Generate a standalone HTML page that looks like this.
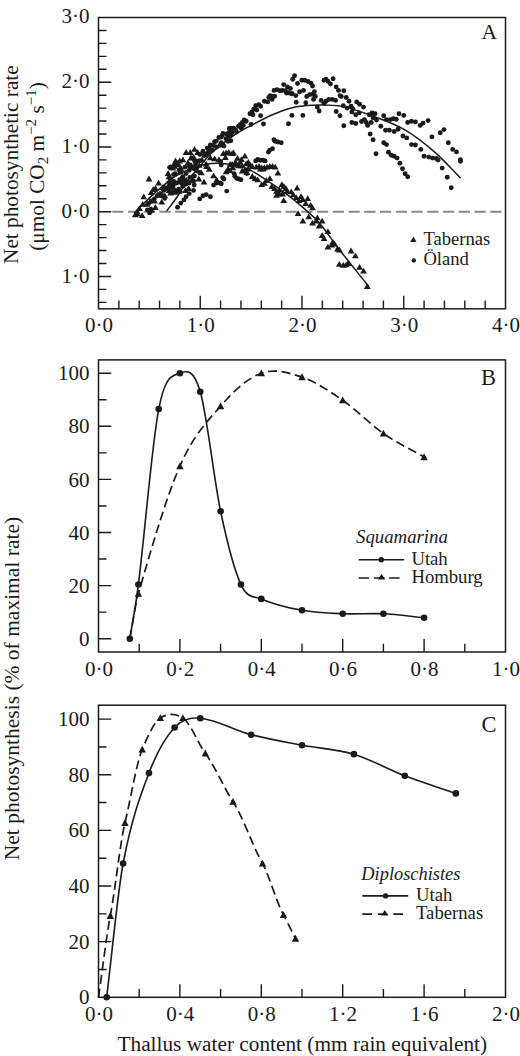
<!DOCTYPE html>
<html><head><meta charset="utf-8"><style>
html,body{margin:0;padding:0;background:#fff;}
svg{display:block;}
text{font-family:"Liberation Serif",serif;fill:#1a1a1a;}
</style></head><body>
<svg width="520" height="1056" viewBox="0 0 520 1056">
<rect width="520" height="1056" fill="#fff"/>
<rect x="98.5" y="17.5" width="407.0" height="291.3" fill="none" stroke="#1a1a1a" stroke-width="1.5"/>
<path d="M98.5,276.43h12.8 M98.5,211.70h12.8 M98.5,146.97h12.8 M98.5,82.23h12.8 M98.5,302.33h8 M98.5,289.38h8 M98.5,263.49h8 M98.5,250.54h8 M98.5,237.59h8 M98.5,224.65h8 M98.5,198.75h8 M98.5,185.81h8 M98.5,172.86h8 M98.5,159.91h8 M98.5,134.02h8 M98.5,121.07h8 M98.5,108.13h8 M98.5,95.18h8 M98.5,69.29h8 M98.5,56.34h8 M98.5,43.39h8 M98.5,30.45h8" stroke="#1a1a1a" stroke-width="1.4" fill="none"/>
<path d="M200.25,308.8v-13 M302.00,308.8v-13 M403.75,308.8v-13 M118.85,308.8v-8.3 M139.20,308.8v-8.3 M159.55,308.8v-8.3 M179.90,308.8v-8.3 M220.60,308.8v-8.3 M240.95,308.8v-8.3 M261.30,308.8v-8.3 M281.65,308.8v-8.3 M322.35,308.8v-8.3 M342.70,308.8v-8.3 M363.05,308.8v-8.3 M383.40,308.8v-8.3 M424.10,308.8v-8.3 M444.45,308.8v-8.3 M464.80,308.8v-8.3 M485.15,308.8v-8.3" stroke="#1a1a1a" stroke-width="1.4" fill="none"/>
<text x="89.6" y="22.90" text-anchor="end" font-size="21">3·0</text>
<text x="89.6" y="88.43" text-anchor="end" font-size="21">2·0</text>
<text x="89.6" y="153.17" text-anchor="end" font-size="21">1·0</text>
<text x="89.6" y="217.90" text-anchor="end" font-size="21">0·0</text>
<text x="89.6" y="282.63" text-anchor="end" font-size="21">1·0</text>
<text x="98.90" y="332.4" text-anchor="middle" font-size="21">0·0</text>
<text x="200.65" y="332.4" text-anchor="middle" font-size="21">1·0</text>
<text x="302.40" y="332.4" text-anchor="middle" font-size="21">2·0</text>
<text x="404.15" y="332.4" text-anchor="middle" font-size="21">3·0</text>
<text x="505.90" y="332.4" text-anchor="middle" font-size="21">4·0</text>
<line x1="112.25" y1="211.70" x2="502.5" y2="211.70" stroke="#8a8a8a" stroke-width="2" stroke-dasharray="11.25 4.5"/>
<text x="497" y="39.4" text-anchor="end" font-size="21.5">A</text>
<rect x="98.5" y="359.9" width="407.0" height="292.1" fill="none" stroke="#1a1a1a" stroke-width="1.5"/>
<path d="M98.5,638.72h12.8 M98.5,585.61h12.8 M98.5,532.50h12.8 M98.5,479.40h12.8 M98.5,426.29h12.8 M98.5,373.18h12.8 M98.5,612.17h8 M98.5,559.06h8 M98.5,505.95h8 M98.5,452.84h8 M98.5,399.73h8" stroke="#1a1a1a" stroke-width="1.4" fill="none"/>
<path d="M179.90,652.0v-13 M261.30,652.0v-13 M342.70,652.0v-13 M424.10,652.0v-13 M139.20,652.0v-8.3 M220.60,652.0v-8.3 M302.00,652.0v-8.3 M383.40,652.0v-8.3 M464.80,652.0v-8.3" stroke="#1a1a1a" stroke-width="1.4" fill="none"/>
<text x="89.6" y="645.82" text-anchor="end" font-size="21">0</text>
<text x="89.6" y="592.71" text-anchor="end" font-size="21">20</text>
<text x="89.6" y="539.60" text-anchor="end" font-size="21">40</text>
<text x="89.6" y="486.50" text-anchor="end" font-size="21">60</text>
<text x="89.6" y="433.39" text-anchor="end" font-size="21">80</text>
<text x="89.6" y="380.28" text-anchor="end" font-size="21">100</text>
<text x="98.90" y="675.9" text-anchor="middle" font-size="21">0·0</text>
<text x="180.30" y="675.9" text-anchor="middle" font-size="21">0·2</text>
<text x="261.70" y="675.9" text-anchor="middle" font-size="21">0·4</text>
<text x="343.10" y="675.9" text-anchor="middle" font-size="21">0·6</text>
<text x="424.50" y="675.9" text-anchor="middle" font-size="21">0·8</text>
<text x="505.90" y="675.9" text-anchor="middle" font-size="21">1·0</text>
<text x="496" y="385" text-anchor="end" font-size="22.5">B</text>
<rect x="98.5" y="705.2" width="407.0" height="292.0999999999999" fill="none" stroke="#1a1a1a" stroke-width="1.5"/>
<path d="M98.5,941.66h12.8 M98.5,886.02h12.8 M98.5,830.39h12.8 M98.5,774.75h12.8 M98.5,719.11h12.8 M98.5,969.48h8 M98.5,913.84h8 M98.5,858.20h8 M98.5,802.57h8 M98.5,746.93h8" stroke="#1a1a1a" stroke-width="1.4" fill="none"/>
<path d="M179.90,997.3v-13 M261.30,997.3v-13 M342.70,997.3v-13 M424.10,997.3v-13 M139.20,997.3v-8.3 M220.60,997.3v-8.3 M302.00,997.3v-8.3 M383.40,997.3v-8.3 M464.80,997.3v-8.3" stroke="#1a1a1a" stroke-width="1.4" fill="none"/>
<text x="89.6" y="1004.40" text-anchor="end" font-size="21">0</text>
<text x="89.6" y="948.76" text-anchor="end" font-size="21">20</text>
<text x="89.6" y="893.12" text-anchor="end" font-size="21">40</text>
<text x="89.6" y="837.49" text-anchor="end" font-size="21">60</text>
<text x="89.6" y="781.85" text-anchor="end" font-size="21">80</text>
<text x="89.6" y="726.21" text-anchor="end" font-size="21">100</text>
<text x="98.90" y="1021" text-anchor="middle" font-size="21">0·0</text>
<text x="180.30" y="1021" text-anchor="middle" font-size="21">0·4</text>
<text x="261.70" y="1021" text-anchor="middle" font-size="21">0·8</text>
<text x="343.10" y="1021" text-anchor="middle" font-size="21">1·2</text>
<text x="424.50" y="1021" text-anchor="middle" font-size="21">1·6</text>
<text x="505.90" y="1021" text-anchor="middle" font-size="21">2·0</text>
<text x="496.5" y="732.3" text-anchor="end" font-size="22.5">C</text>
<text transform="translate(18.3,264) rotate(-90)" font-size="21.3">Net photosynthetic rate</text>
<text transform="translate(43.5,250.8) rotate(-90)" font-size="21.3">(μmol CO<tspan font-size="15" dy="4">2</tspan><tspan dy="-4"> m</tspan><tspan font-size="15" dy="-8">−2</tspan><tspan dy="8"> s</tspan><tspan font-size="15" dy="-8">−1</tspan><tspan dy="8">)</tspan></text>
<text transform="translate(18.5,860.2) rotate(-90)" font-size="21.5">Net photosynthesis (% of maximal rate)</text>
<text x="117.5" y="1051.3" font-size="21.3">Thallus water content (mm rain equivalent)</text>
<path d="M129.84,638.72 C132.69,620.67 135.54,607.20 138.39,584.55 C145.17,530.63 151.95,443.56 158.74,409.03 C165.79,373.11 172.85,376.11 179.90,373.18 C186.68,370.36 193.47,368.75 200.25,391.77 C207.03,414.78 213.82,479.13 220.60,511.26 C227.38,543.39 234.17,569.95 240.95,584.55 C247.73,599.16 254.52,596.03 261.30,598.89 C274.87,604.61 288.43,607.83 302.00,610.31 C315.57,612.79 329.13,613.19 342.70,613.76 C356.27,614.34 369.83,613.10 383.40,613.76 C396.97,614.43 410.53,616.42 424.10,617.74" fill="none" stroke="#1a1a1a" stroke-width="1.6"/>
<path d="M129.84,638.72 C132.69,623.68 135.54,603.40 138.39,593.58 C152.22,545.87 166.06,497.67 179.90,466.12 C193.47,435.18 207.03,421.60 220.60,406.10 C234.17,390.61 247.73,378.00 261.30,373.18 C274.87,368.35 288.43,372.65 302.00,377.16 C315.57,381.67 329.13,390.88 342.70,400.26 C356.27,409.65 369.83,423.98 383.40,433.46 C396.97,442.93 410.53,449.21 424.10,457.09" fill="none" stroke="#1a1a1a" stroke-width="1.7" stroke-dasharray="9 4.6"/>
<path d="M138.39,589.79L142.09,596.69L134.69,596.69Z" fill="#1a1a1a"/>
<path d="M179.90,462.32L183.60,469.22L176.20,469.22Z" fill="#1a1a1a"/>
<path d="M220.60,402.31L224.30,409.21L216.90,409.21Z" fill="#1a1a1a"/>
<path d="M261.30,369.38L265.00,376.28L257.60,376.28Z" fill="#1a1a1a"/>
<path d="M302.00,373.37L305.70,380.27L298.30,380.27Z" fill="#1a1a1a"/>
<path d="M342.70,396.47L346.40,403.37L339.00,403.37Z" fill="#1a1a1a"/>
<path d="M383.40,429.66L387.10,436.56L379.70,436.56Z" fill="#1a1a1a"/>
<path d="M424.10,453.29L427.80,460.19L420.40,460.19Z" fill="#1a1a1a"/>
<circle cx="129.84" cy="638.72" r="3.3" fill="#1a1a1a"/>
<circle cx="138.39" cy="584.55" r="3.3" fill="#1a1a1a"/>
<circle cx="158.74" cy="409.03" r="3.3" fill="#1a1a1a"/>
<circle cx="179.90" cy="373.18" r="3.3" fill="#1a1a1a"/>
<circle cx="200.25" cy="391.77" r="3.3" fill="#1a1a1a"/>
<circle cx="220.60" cy="511.26" r="3.3" fill="#1a1a1a"/>
<circle cx="240.95" cy="584.55" r="3.3" fill="#1a1a1a"/>
<circle cx="261.30" cy="598.89" r="3.3" fill="#1a1a1a"/>
<circle cx="302.00" cy="610.31" r="3.3" fill="#1a1a1a"/>
<circle cx="342.70" cy="613.76" r="3.3" fill="#1a1a1a"/>
<circle cx="383.40" cy="613.76" r="3.3" fill="#1a1a1a"/>
<circle cx="424.10" cy="617.74" r="3.3" fill="#1a1a1a"/>
<text x="356" y="543" font-size="18.8" font-style="italic">Squamarina</text>
<line x1="358.7" y1="559.7" x2="404.2" y2="559.7" stroke="#1a1a1a" stroke-width="1.6"/>
<circle cx="381.30" cy="559.70" r="2.7" fill="#1a1a1a"/>
<text x="411.4" y="564.6" font-size="18.7">Utah</text>
<line x1="358.7" y1="578" x2="399.6" y2="578" stroke="#1a1a1a" stroke-width="1.6" stroke-dasharray="10.6 4.6"/>
<path d="M381.50,573.82L385.00,579.42L378.00,579.42Z" fill="#1a1a1a"/>
<text x="411.4" y="583" font-size="18.7">Homburg</text>
<path d="M106.64,997.30 C112.13,952.70 117.63,892.60 123.12,863.49 C131.74,817.86 140.35,795.84 148.97,773.08 C157.51,750.50 166.06,736.59 174.61,727.46 C183.16,718.32 191.70,717.47 200.25,718.27 C217.21,719.88 234.17,730.19 251.12,734.69 C268.08,739.19 285.04,742.05 302.00,745.26 C319.30,748.54 336.59,749.01 353.89,754.16 C370.85,759.21 387.81,769.34 404.77,775.86 C421.79,782.41 438.82,787.54 455.85,793.39" fill="none" stroke="#1a1a1a" stroke-width="1.6"/>
<path d="M98.50,997.30 C102.43,970.13 106.37,936.54 110.30,915.79 C115.19,890.03 120.07,843.22 124.95,822.87 C130.72,798.86 136.49,763.09 142.25,749.43 C148.29,735.13 154.33,721.73 160.36,718.00 C167.89,713.34 175.42,713.26 182.95,718.00 C190.41,722.69 197.88,743.34 205.34,753.33 C214.56,765.67 223.79,787.51 233.01,801.73 C242.85,816.89 252.69,845.84 262.52,863.49 C269.51,876.03 276.49,902.22 283.48,914.96 C287.48,922.25 291.49,930.72 295.49,938.60" fill="none" stroke="#1a1a1a" stroke-width="1.7" stroke-dasharray="9 4.6"/>
<path d="M110.30,912.00L114.00,918.90L106.60,918.90Z" fill="#1a1a1a"/>
<path d="M124.95,819.08L128.66,825.98L121.25,825.98Z" fill="#1a1a1a"/>
<path d="M142.25,745.64L145.95,752.54L138.55,752.54Z" fill="#1a1a1a"/>
<path d="M160.36,714.20L164.06,721.10L156.66,721.10Z" fill="#1a1a1a"/>
<path d="M182.95,714.20L186.65,721.10L179.25,721.10Z" fill="#1a1a1a"/>
<path d="M205.34,749.53L209.04,756.43L201.64,756.43Z" fill="#1a1a1a"/>
<path d="M233.01,797.94L236.71,804.84L229.31,804.84Z" fill="#1a1a1a"/>
<path d="M262.52,859.70L266.22,866.60L258.82,866.60Z" fill="#1a1a1a"/>
<path d="M283.48,911.16L287.18,918.06L279.78,918.06Z" fill="#1a1a1a"/>
<path d="M295.49,934.81L299.19,941.71L291.79,941.71Z" fill="#1a1a1a"/>
<circle cx="106.64" cy="997.30" r="3.3" fill="#1a1a1a"/>
<circle cx="123.12" cy="863.49" r="3.3" fill="#1a1a1a"/>
<circle cx="148.97" cy="773.08" r="3.3" fill="#1a1a1a"/>
<circle cx="174.61" cy="727.46" r="3.3" fill="#1a1a1a"/>
<circle cx="200.25" cy="718.27" r="3.3" fill="#1a1a1a"/>
<circle cx="251.12" cy="734.69" r="3.3" fill="#1a1a1a"/>
<circle cx="302.00" cy="745.26" r="3.3" fill="#1a1a1a"/>
<circle cx="353.89" cy="754.16" r="3.3" fill="#1a1a1a"/>
<circle cx="404.77" cy="775.86" r="3.3" fill="#1a1a1a"/>
<circle cx="455.85" cy="793.39" r="3.3" fill="#1a1a1a"/>
<text x="361.3" y="880.1" font-size="18.4" font-style="italic">Diploschistes</text>
<line x1="362.3" y1="895.9" x2="408.2" y2="895.9" stroke="#1a1a1a" stroke-width="1.6"/>
<circle cx="385.60" cy="895.90" r="2.7" fill="#1a1a1a"/>
<text x="416" y="900.6" font-size="18.7">Utah</text>
<line x1="362.3" y1="914.1" x2="403.2" y2="914.1" stroke="#1a1a1a" stroke-width="1.6" stroke-dasharray="9.6 5.9"/>
<path d="M384.80,909.92L388.30,915.52L381.30,915.52Z" fill="#1a1a1a"/>
<text x="416" y="918.7" font-size="18.7">Tabernas</text>
<g fill="#1a1a1a"><circle cx="269.8" cy="150.1" r="2.45"/><circle cx="268.5" cy="152.1" r="2.45"/><circle cx="272.5" cy="148.7" r="2.45"/><circle cx="275.2" cy="141.3" r="2.45"/><circle cx="277.9" cy="142.0" r="2.45"/><circle cx="281.2" cy="142.7" r="2.45"/><circle cx="255.7" cy="160.9" r="2.45"/><circle cx="257.7" cy="159.5" r="2.45"/><circle cx="260.4" cy="160.2" r="2.45"/><circle cx="263.1" cy="160.2" r="2.45"/><circle cx="265.1" cy="160.9" r="2.45"/><circle cx="222.7" cy="144.7" r="2.45"/><circle cx="221.3" cy="142.7" r="2.45"/><circle cx="220.0" cy="145.4" r="2.45"/><circle cx="224.0" cy="146.1" r="2.45"/><circle cx="228.1" cy="141.3" r="2.45"/><circle cx="230.8" cy="140.7" r="2.45"/><circle cx="222.7" cy="177.7" r="2.45"/><circle cx="224.0" cy="179.0" r="2.45"/><circle cx="221.3" cy="183.7" r="2.45"/><circle cx="226.7" cy="191.1" r="2.45"/><circle cx="234.8" cy="176.3" r="2.45"/><circle cx="236.8" cy="178.4" r="2.45"/><circle cx="238.8" cy="179.0" r="2.45"/><circle cx="240.9" cy="179.7" r="2.45"/><circle cx="234.1" cy="173.6" r="2.45"/><circle cx="244.9" cy="171.0" r="2.45"/><circle cx="246.9" cy="173.6" r="2.45"/><circle cx="221.3" cy="164.9" r="2.45"/><circle cx="220.7" cy="161.5" r="2.45"/><circle cx="218.9" cy="137.5" r="2.45"/><circle cx="214.6" cy="141.7" r="2.45"/><circle cx="210.4" cy="144.9" r="2.45"/><circle cx="207.2" cy="148.1" r="2.45"/><circle cx="203.0" cy="151.3" r="2.45"/><circle cx="199.8" cy="154.4" r="2.45"/><circle cx="204.0" cy="155.5" r="2.45"/><circle cx="208.3" cy="152.3" r="2.45"/><circle cx="212.5" cy="150.2" r="2.45"/><circle cx="216.7" cy="147.0" r="2.45"/><circle cx="199.8" cy="160.8" r="2.45"/><circle cx="195.6" cy="163.9" r="2.45"/><circle cx="192.4" cy="167.1" r="2.45"/><circle cx="189.2" cy="170.3" r="2.45"/><circle cx="186.1" cy="173.5" r="2.45"/><circle cx="182.9" cy="176.6" r="2.45"/><circle cx="179.7" cy="179.8" r="2.45"/><circle cx="176.5" cy="183.0" r="2.45"/><circle cx="173.4" cy="185.1" r="2.45"/><circle cx="170.2" cy="186.2" r="2.45"/><circle cx="167.0" cy="188.3" r="2.45"/><circle cx="163.8" cy="190.4" r="2.45"/><circle cx="160.7" cy="193.6" r="2.45"/><circle cx="157.5" cy="195.7" r="2.45"/><circle cx="154.3" cy="198.9" r="2.45"/><circle cx="151.2" cy="201.0" r="2.45"/><circle cx="149.0" cy="203.1" r="2.45"/><circle cx="180.8" cy="169.2" r="2.45"/><circle cx="185.0" cy="167.1" r="2.45"/><circle cx="190.3" cy="165.0" r="2.45"/><circle cx="194.5" cy="160.8" r="2.45"/><circle cx="182.9" cy="186.2" r="2.45"/><circle cx="186.1" cy="184.0" r="2.45"/><circle cx="189.2" cy="183.0" r="2.45"/><circle cx="193.5" cy="180.9" r="2.45"/><circle cx="172.3" cy="192.5" r="2.45"/><circle cx="175.5" cy="190.4" r="2.45"/><circle cx="178.7" cy="189.3" r="2.45"/><circle cx="177.6" cy="207.3" r="2.45"/><circle cx="180.8" cy="203.1" r="2.45"/><circle cx="183.9" cy="199.9" r="2.45"/><circle cx="186.1" cy="196.7" r="2.45"/><circle cx="189.2" cy="193.6" r="2.45"/><circle cx="193.5" cy="190.4" r="2.45"/><circle cx="199.8" cy="198.9" r="2.45"/><circle cx="203.0" cy="195.7" r="2.45"/><circle cx="206.2" cy="194.6" r="2.45"/><circle cx="210.4" cy="196.7" r="2.45"/><circle cx="213.6" cy="185.1" r="2.45"/><circle cx="216.7" cy="183.0" r="2.45"/><circle cx="219.9" cy="183.0" r="2.45"/><circle cx="294.6" cy="75.8" r="2.45"/><circle cx="292.7" cy="79.2" r="2.45"/><circle cx="297.5" cy="83.5" r="2.45"/><circle cx="283.7" cy="84.6" r="2.45"/><circle cx="287.5" cy="86.9" r="2.45"/><circle cx="290.4" cy="88.5" r="2.45"/><circle cx="292.3" cy="93.7" r="2.45"/><circle cx="274.0" cy="90.4" r="2.45"/><circle cx="276.9" cy="89.8" r="2.45"/><circle cx="279.8" cy="90.8" r="2.45"/><circle cx="282.3" cy="90.4" r="2.45"/><circle cx="285.6" cy="90.8" r="2.45"/><circle cx="286.5" cy="93.1" r="2.45"/><circle cx="288.5" cy="92.7" r="2.45"/><circle cx="291.3" cy="93.7" r="2.45"/><circle cx="295.8" cy="95.6" r="2.45"/><circle cx="270.2" cy="95.6" r="2.45"/><circle cx="272.1" cy="96.5" r="2.45"/><circle cx="268.8" cy="97.5" r="2.45"/><circle cx="274.6" cy="96.2" r="2.45"/><circle cx="272.1" cy="99.4" r="2.45"/><circle cx="264.4" cy="101.3" r="2.45"/><circle cx="267.7" cy="101.9" r="2.45"/><circle cx="258.7" cy="104.6" r="2.45"/><circle cx="260.6" cy="106.2" r="2.45"/><circle cx="255.8" cy="105.8" r="2.45"/><circle cx="253.8" cy="109.0" r="2.45"/><circle cx="256.7" cy="110.0" r="2.45"/><circle cx="251.9" cy="111.9" r="2.45"/><circle cx="250.0" cy="113.8" r="2.45"/><circle cx="252.9" cy="114.8" r="2.45"/><circle cx="260.6" cy="115.8" r="2.45"/><circle cx="244.2" cy="120.0" r="2.45"/><circle cx="246.2" cy="121.2" r="2.45"/><circle cx="242.3" cy="122.5" r="2.45"/><circle cx="240.4" cy="124.4" r="2.45"/><circle cx="238.5" cy="126.3" r="2.45"/><circle cx="243.3" cy="125.4" r="2.45"/><circle cx="241.3" cy="128.3" r="2.45"/><circle cx="251.0" cy="124.4" r="2.45"/><circle cx="263.5" cy="124.0" r="2.45"/><circle cx="233.7" cy="128.3" r="2.45"/><circle cx="235.6" cy="130.2" r="2.45"/><circle cx="230.8" cy="131.2" r="2.45"/><circle cx="228.8" cy="132.7" r="2.45"/><circle cx="226.9" cy="134.0" r="2.45"/><circle cx="236.5" cy="132.1" r="2.45"/><circle cx="229.8" cy="136.0" r="2.45"/><circle cx="226.0" cy="138.8" r="2.45"/><circle cx="296.2" cy="102.3" r="2.45"/><circle cx="291.9" cy="115.4" r="2.45"/><circle cx="302.9" cy="115.4" r="2.45"/><circle cx="288.5" cy="123.8" r="2.45"/><circle cx="299.6" cy="91.7" r="2.45"/><circle cx="303.5" cy="90.4" r="2.45"/><circle cx="301.9" cy="80.2" r="2.45"/><circle cx="304.8" cy="80.2" r="2.45"/><circle cx="308.1" cy="81.5" r="2.45"/><circle cx="311.0" cy="83.1" r="2.45"/><circle cx="312.5" cy="86.0" r="2.45"/><circle cx="306.7" cy="96.5" r="2.45"/><circle cx="309.6" cy="94.6" r="2.45"/><circle cx="312.5" cy="94.2" r="2.45"/><circle cx="314.4" cy="91.7" r="2.45"/><circle cx="315.4" cy="96.5" r="2.45"/><circle cx="313.5" cy="99.4" r="2.45"/><circle cx="305.8" cy="102.7" r="2.45"/><circle cx="321.2" cy="100.4" r="2.45"/><circle cx="317.3" cy="107.1" r="2.45"/><circle cx="319.2" cy="111.0" r="2.45"/><circle cx="324.0" cy="80.2" r="2.45"/><circle cx="324.0" cy="103.3" r="2.45"/><circle cx="274.0" cy="139.8" r="2.45"/><circle cx="326.0" cy="79.2" r="2.45"/><circle cx="327.9" cy="81.2" r="2.45"/><circle cx="330.4" cy="84.0" r="2.45"/><circle cx="333.1" cy="78.7" r="2.45"/><circle cx="336.2" cy="86.9" r="2.45"/><circle cx="338.5" cy="90.4" r="2.45"/><circle cx="343.8" cy="90.8" r="2.45"/><circle cx="340.0" cy="95.6" r="2.45"/><circle cx="341.3" cy="96.5" r="2.45"/><circle cx="346.2" cy="97.5" r="2.45"/><circle cx="349.0" cy="101.3" r="2.45"/><circle cx="326.0" cy="101.3" r="2.45"/><circle cx="328.8" cy="99.4" r="2.45"/><circle cx="332.3" cy="99.4" r="2.45"/><circle cx="335.6" cy="100.4" r="2.45"/><circle cx="356.7" cy="101.9" r="2.45"/><circle cx="359.6" cy="104.2" r="2.45"/><circle cx="363.5" cy="107.1" r="2.45"/><circle cx="343.3" cy="105.8" r="2.45"/><circle cx="347.1" cy="108.1" r="2.45"/><circle cx="351.0" cy="106.2" r="2.45"/><circle cx="352.9" cy="109.0" r="2.45"/><circle cx="351.9" cy="111.9" r="2.45"/><circle cx="355.8" cy="114.8" r="2.45"/><circle cx="359.2" cy="112.9" r="2.45"/><circle cx="336.2" cy="111.5" r="2.45"/><circle cx="340.0" cy="115.8" r="2.45"/><circle cx="343.8" cy="125.8" r="2.45"/><circle cx="351.9" cy="122.5" r="2.45"/><circle cx="355.8" cy="123.5" r="2.45"/><circle cx="361.5" cy="121.5" r="2.45"/><circle cx="364.4" cy="119.6" r="2.45"/><circle cx="366.3" cy="122.5" r="2.45"/><circle cx="367.7" cy="125.4" r="2.45"/><circle cx="369.2" cy="114.8" r="2.45"/><circle cx="372.1" cy="112.9" r="2.45"/><circle cx="375.0" cy="113.8" r="2.45"/><circle cx="373.1" cy="117.7" r="2.45"/><circle cx="376.5" cy="120.0" r="2.45"/><circle cx="371.2" cy="122.5" r="2.45"/><circle cx="380.8" cy="126.3" r="2.45"/><circle cx="383.7" cy="115.8" r="2.45"/><circle cx="386.5" cy="119.6" r="2.45"/><circle cx="390.4" cy="119.6" r="2.45"/><circle cx="393.3" cy="118.7" r="2.45"/><circle cx="396.2" cy="119.2" r="2.45"/><circle cx="399.0" cy="113.8" r="2.45"/><circle cx="403.8" cy="115.4" r="2.45"/><circle cx="407.7" cy="122.5" r="2.45"/><circle cx="411.5" cy="121.2" r="2.45"/><circle cx="415.4" cy="121.9" r="2.45"/><circle cx="420.2" cy="125.4" r="2.45"/><circle cx="423.1" cy="123.1" r="2.45"/><circle cx="398.1" cy="129.2" r="2.45"/><circle cx="385.6" cy="130.2" r="2.45"/><circle cx="389.4" cy="130.2" r="2.45"/><circle cx="394.2" cy="131.5" r="2.45"/><circle cx="370.2" cy="134.0" r="2.45"/><circle cx="373.1" cy="139.8" r="2.45"/><circle cx="383.7" cy="142.7" r="2.45"/><circle cx="386.5" cy="144.6" r="2.45"/><circle cx="402.9" cy="136.0" r="2.45"/><circle cx="406.7" cy="137.9" r="2.45"/><circle cx="411.5" cy="144.6" r="2.45"/><circle cx="415.4" cy="145.0" r="2.45"/><circle cx="420.8" cy="149.4" r="2.45"/><circle cx="376.0" cy="153.7" r="2.45"/><circle cx="388.5" cy="152.3" r="2.45"/><circle cx="391.3" cy="155.2" r="2.45"/><circle cx="394.2" cy="156.2" r="2.45"/><circle cx="397.1" cy="158.1" r="2.45"/><circle cx="424.0" cy="156.2" r="2.45"/><circle cx="428.1" cy="120.6" r="2.45"/><circle cx="440.2" cy="132.7" r="2.45"/><circle cx="444.0" cy="129.6" r="2.45"/><circle cx="431.9" cy="136.9" r="2.45"/><circle cx="448.3" cy="142.7" r="2.45"/><circle cx="452.7" cy="149.4" r="2.45"/><circle cx="456.5" cy="151.9" r="2.45"/><circle cx="460.4" cy="159.6" r="2.45"/><circle cx="428.7" cy="157.1" r="2.45"/><circle cx="432.5" cy="158.1" r="2.45"/><circle cx="436.3" cy="158.5" r="2.45"/><circle cx="399.9" cy="163.3" r="2.45"/><circle cx="402.5" cy="168.8" r="2.45"/><circle cx="405.1" cy="173.7" r="2.45"/><circle cx="407.7" cy="176.8" r="2.45"/><circle cx="438.1" cy="160.0" r="2.45"/><circle cx="442.2" cy="168.1" r="2.45"/><circle cx="447.3" cy="177.3" r="2.45"/><circle cx="451.2" cy="187.7" r="2.45"/><circle cx="460.5" cy="161.2" r="2.45"/><circle cx="169.7" cy="186.7" r="2.45"/><circle cx="170.8" cy="183.2" r="2.45"/><circle cx="170.6" cy="178.7" r="2.45"/><circle cx="194.4" cy="176.0" r="2.45"/><circle cx="196.8" cy="161.1" r="2.45"/><circle cx="191.7" cy="158.0" r="2.45"/><circle cx="172.2" cy="187.7" r="2.45"/><circle cx="149.6" cy="212.9" r="2.45"/><circle cx="189.5" cy="166.4" r="2.45"/><circle cx="184.1" cy="181.5" r="2.45"/><circle cx="161.8" cy="195.1" r="2.45"/><circle cx="164.7" cy="198.4" r="2.45"/><circle cx="189.0" cy="182.5" r="2.45"/><circle cx="147.5" cy="209.9" r="2.45"/><circle cx="179.0" cy="169.9" r="2.45"/><circle cx="169.2" cy="191.4" r="2.45"/><circle cx="161.3" cy="195.9" r="2.45"/><circle cx="205.3" cy="155.0" r="2.45"/><circle cx="163.8" cy="187.3" r="2.45"/><circle cx="150.9" cy="209.5" r="2.45"/><circle cx="196.3" cy="170.7" r="2.45"/><circle cx="168.8" cy="186.1" r="2.45"/><circle cx="206.9" cy="153.9" r="2.45"/><circle cx="209.2" cy="147.8" r="2.45"/><circle cx="209.1" cy="148.5" r="2.45"/><circle cx="213.6" cy="145.5" r="2.45"/><circle cx="216.4" cy="141.1" r="2.45"/><circle cx="222.2" cy="135.7" r="2.45"/><circle cx="221.0" cy="137.0" r="2.45"/><circle cx="223.0" cy="133.5" r="2.45"/><circle cx="228.2" cy="135.1" r="2.45"/><circle cx="229.3" cy="128.4" r="2.45"/><circle cx="231.3" cy="134.1" r="2.45"/><circle cx="231.3" cy="128.1" r="2.45"/><circle cx="232.3" cy="132.1" r="2.45"/><circle cx="173.8" cy="181.4" r="2.45"/><circle cx="169.6" cy="167.6" r="2.45"/><circle cx="175.1" cy="173.7" r="2.45"/><circle cx="174.4" cy="165.2" r="2.45"/><circle cx="194.2" cy="185.0" r="2.45"/><circle cx="193.6" cy="168.5" r="2.45"/><circle cx="182.2" cy="183.5" r="2.45"/><circle cx="175.8" cy="164.3" r="2.45"/><circle cx="189.8" cy="177.4" r="2.45"/><circle cx="170.7" cy="166.9" r="2.45"/><circle cx="173.6" cy="174.6" r="2.45"/><circle cx="177.8" cy="163.0" r="2.45"/><circle cx="199.5" cy="172.5" r="2.45"/></g>
<g fill="#1a1a1a"><path d="M223.4,150.3l3.4,5.8h-6.8z"/><path d="M226.1,149.6l3.4,5.8h-6.8z"/><path d="M228.7,148.9l3.4,5.8h-6.8z"/><path d="M232.1,150.3l3.4,5.8h-6.8z"/><path d="M233.5,149.6l3.4,5.8h-6.8z"/><path d="M225.4,154.3l3.4,5.8h-6.8z"/><path d="M244.9,152.7l3.4,5.8h-6.8z"/><path d="M241.5,156.3l3.4,5.8h-6.8z"/><path d="M240.2,159.0l3.4,5.8h-6.8z"/><path d="M235.5,159.0l3.4,5.8h-6.8z"/><path d="M232.1,161.0l3.4,5.8h-6.8z"/><path d="M230.1,161.0l3.4,5.8h-6.8z"/><path d="M236.2,161.7l3.4,5.8h-6.8z"/><path d="M238.8,162.4l3.4,5.8h-6.8z"/><path d="M242.2,162.4l3.4,5.8h-6.8z"/><path d="M246.2,160.4l3.4,5.8h-6.8z"/><path d="M248.3,159.0l3.4,5.8h-6.8z"/><path d="M250.3,161.7l3.4,5.8h-6.8z"/><path d="M252.3,163.1l3.4,5.8h-6.8z"/><path d="M248.3,165.7l3.4,5.8h-6.8z"/><path d="M244.9,167.1l3.4,5.8h-6.8z"/><path d="M242.2,167.8l3.4,5.8h-6.8z"/><path d="M246.9,169.1l3.4,5.8h-6.8z"/><path d="M228.1,165.7l3.4,5.8h-6.8z"/><path d="M226.1,168.4l3.4,5.8h-6.8z"/><path d="M230.1,167.1l3.4,5.8h-6.8z"/><path d="M232.8,164.4l3.4,5.8h-6.8z"/><path d="M252.3,173.1l3.4,5.8h-6.8z"/><path d="M255.0,175.2l3.4,5.8h-6.8z"/><path d="M257.7,176.5l3.4,5.8h-6.8z"/><path d="M261.7,181.2l3.4,5.8h-6.8z"/><path d="M264.4,179.9l3.4,5.8h-6.8z"/><path d="M266.4,177.2l3.4,5.8h-6.8z"/><path d="M269.8,175.2l3.4,5.8h-6.8z"/><path d="M271.8,183.2l3.4,5.8h-6.8z"/><path d="M274.5,185.3l3.4,5.8h-6.8z"/><path d="M276.5,188.0l3.4,5.8h-6.8z"/><path d="M279.2,186.6l3.4,5.8h-6.8z"/><path d="M281.9,181.2l3.4,5.8h-6.8z"/><path d="M283.9,183.2l3.4,5.8h-6.8z"/><path d="M285.9,185.3l3.4,5.8h-6.8z"/><path d="M287.3,188.0l3.4,5.8h-6.8z"/><path d="M282.6,190.6l3.4,5.8h-6.8z"/><path d="M279.2,190.6l3.4,5.8h-6.8z"/><path d="M276.5,192.0l3.4,5.8h-6.8z"/><path d="M256.3,163.7l3.4,5.8h-6.8z"/><path d="M259.0,163.1l3.4,5.8h-6.8z"/><path d="M261.7,164.4l3.4,5.8h-6.8z"/><path d="M264.4,164.4l3.4,5.8h-6.8z"/><path d="M267.1,163.7l3.4,5.8h-6.8z"/><path d="M269.8,163.1l3.4,5.8h-6.8z"/><path d="M272.5,163.1l3.4,5.8h-6.8z"/><path d="M275.2,163.7l3.4,5.8h-6.8z"/><path d="M277.9,169.8l3.4,5.8h-6.8z"/><path d="M260.4,165.7l3.4,5.8h-6.8z"/><path d="M263.1,165.7l3.4,5.8h-6.8z"/><path d="M237.5,155.0l3.4,5.8h-6.8z"/><path d="M302.9,217.8l3.4,5.8h-6.8z"/><path d="M312.5,219.7l3.4,5.8h-6.8z"/><path d="M316.3,217.8l3.4,5.8h-6.8z"/><path d="M322.1,217.8l3.4,5.8h-6.8z"/><path d="M319.2,222.6l3.4,5.8h-6.8z"/><path d="M327.9,228.3l3.4,5.8h-6.8z"/><path d="M322.1,232.2l3.4,5.8h-6.8z"/><path d="M324.0,235.1l3.4,5.8h-6.8z"/><path d="M332.7,238.9l3.4,5.8h-6.8z"/><path d="M334.6,240.8l3.4,5.8h-6.8z"/><path d="M331.7,241.8l3.4,5.8h-6.8z"/><path d="M327.9,243.7l3.4,5.8h-6.8z"/><path d="M337.5,245.7l3.4,5.8h-6.8z"/><path d="M339.4,246.6l3.4,5.8h-6.8z"/><path d="M351.0,247.6l3.4,5.8h-6.8z"/><path d="M355.4,252.4l3.4,5.8h-6.8z"/><path d="M339.4,261.0l3.4,5.8h-6.8z"/><path d="M343.3,262.0l3.4,5.8h-6.8z"/><path d="M346.2,261.4l3.4,5.8h-6.8z"/><path d="M348.1,260.1l3.4,5.8h-6.8z"/><path d="M359.6,263.9l3.4,5.8h-6.8z"/><path d="M363.5,267.8l3.4,5.8h-6.8z"/><path d="M367.3,283.2l3.4,5.8h-6.8z"/><path d="M186.1,149.1l3.4,5.8h-6.8z"/><path d="M190.3,149.1l3.4,5.8h-6.8z"/><path d="M194.5,145.9l3.4,5.8h-6.8z"/><path d="M197.7,149.1l3.4,5.8h-6.8z"/><path d="M175.5,157.6l3.4,5.8h-6.8z"/><path d="M179.7,157.6l3.4,5.8h-6.8z"/><path d="M182.9,156.5l3.4,5.8h-6.8z"/><path d="M174.4,162.9l3.4,5.8h-6.8z"/><path d="M168.1,170.3l3.4,5.8h-6.8z"/><path d="M149.0,175.6l3.4,5.8h-6.8z"/><path d="M158.6,179.8l3.4,5.8h-6.8z"/><path d="M155.4,185.1l3.4,5.8h-6.8z"/><path d="M151.2,189.3l3.4,5.8h-6.8z"/><path d="M143.8,193.5l3.4,5.8h-6.8z"/><path d="M142.7,201.0l3.4,5.8h-6.8z"/><path d="M139.5,205.2l3.4,5.8h-6.8z"/><path d="M137.4,208.4l3.4,5.8h-6.8z"/><path d="M135.3,211.5l3.4,5.8h-6.8z"/><path d="M146.9,201.0l3.4,5.8h-6.8z"/><path d="M151.2,206.2l3.4,5.8h-6.8z"/><path d="M155.4,204.1l3.4,5.8h-6.8z"/><path d="M161.7,198.8l3.4,5.8h-6.8z"/><path d="M164.9,192.5l3.4,5.8h-6.8z"/><path d="M169.1,187.2l3.4,5.8h-6.8z"/><path d="M172.3,181.9l3.4,5.8h-6.8z"/><path d="M178.7,178.7l3.4,5.8h-6.8z"/><path d="M183.9,176.6l3.4,5.8h-6.8z"/><path d="M192.4,176.6l3.4,5.8h-6.8z"/><path d="M198.8,175.6l3.4,5.8h-6.8z"/><path d="M204.0,178.7l3.4,5.8h-6.8z"/><path d="M209.3,166.0l3.4,5.8h-6.8z"/><path d="M213.6,172.4l3.4,5.8h-6.8z"/><path d="M216.7,176.6l3.4,5.8h-6.8z"/><path d="M218.9,156.5l3.4,5.8h-6.8z"/><path d="M214.6,155.5l3.4,5.8h-6.8z"/><path d="M210.4,154.4l3.4,5.8h-6.8z"/><path d="M201.9,156.5l3.4,5.8h-6.8z"/><path d="M206.2,160.8l3.4,5.8h-6.8z"/><path d="M283.7,197.2l3.4,5.8h-6.8z"/><path d="M291.3,188.5l3.4,5.8h-6.8z"/><path d="M293.3,191.4l3.4,5.8h-6.8z"/><path d="M297.1,184.7l3.4,5.8h-6.8z"/><path d="M296.2,194.3l3.4,5.8h-6.8z"/><path d="M299.0,197.2l3.4,5.8h-6.8z"/><path d="M301.0,193.3l3.4,5.8h-6.8z"/><path d="M302.9,196.2l3.4,5.8h-6.8z"/><path d="M305.8,200.1l3.4,5.8h-6.8z"/><path d="M307.7,195.3l3.4,5.8h-6.8z"/><path d="M310.6,202.0l3.4,5.8h-6.8z"/><path d="M312.5,204.5l3.4,5.8h-6.8z"/><path d="M298.1,210.3l3.4,5.8h-6.8z"/><path d="M308.7,213.5l3.4,5.8h-6.8z"/><path d="M317.3,214.5l3.4,5.8h-6.8z"/><path d="M185.5,187.3l3.4,5.8h-6.8z"/><path d="M175.0,188.9l3.4,5.8h-6.8z"/><path d="M186.2,176.7l3.4,5.8h-6.8z"/><path d="M150.7,207.0l3.4,5.8h-6.8z"/><path d="M195.3,164.1l3.4,5.8h-6.8z"/><path d="M193.7,153.9l3.4,5.8h-6.8z"/><path d="M142.1,212.3l3.4,5.8h-6.8z"/><path d="M154.5,197.8l3.4,5.8h-6.8z"/><path d="M153.3,186.3l3.4,5.8h-6.8z"/><path d="M181.6,174.2l3.4,5.8h-6.8z"/><path d="M137.2,210.5l3.4,5.8h-6.8z"/><path d="M181.0,165.7l3.4,5.8h-6.8z"/><path d="M163.1,184.3l3.4,5.8h-6.8z"/><path d="M188.5,185.2l3.4,5.8h-6.8z"/><path d="M179.2,187.9l3.4,5.8h-6.8z"/><path d="M179.9,186.8l3.4,5.8h-6.8z"/><path d="M206.5,163.2l3.4,5.8h-6.8z"/><path d="M157.8,191.4l3.4,5.8h-6.8z"/><path d="M159.9,190.6l3.4,5.8h-6.8z"/><path d="M164.4,185.1l3.4,5.8h-6.8z"/><path d="M183.3,179.1l3.4,5.8h-6.8z"/><path d="M199.3,161.9l3.4,5.8h-6.8z"/><path d="M187.9,159.4l3.4,5.8h-6.8z"/><path d="M190.9,154.7l3.4,5.8h-6.8z"/><path d="M170.6,189.6l3.4,5.8h-6.8z"/><path d="M201.4,169.4l3.4,5.8h-6.8z"/><path d="M195.6,163.2l3.4,5.8h-6.8z"/><path d="M169.0,173.5l3.4,5.8h-6.8z"/><path d="M180.1,168.5l3.4,5.8h-6.8z"/><path d="M169.2,177.9l3.4,5.8h-6.8z"/><path d="M178.8,161.5l3.4,5.8h-6.8z"/><path d="M172.9,164.7l3.4,5.8h-6.8z"/></g>
<path d="M166.67,211.12 C170.20,206.33 173.89,201.68 177.25,196.75 C180.65,191.76 183.35,186.17 186.92,181.34 C190.45,176.57 194.67,172.42 198.52,167.94 C202.37,163.46 205.85,158.64 210.02,154.48 C214.19,150.31 218.98,146.53 223.55,142.95 C227.94,139.52 232.37,136.24 236.88,133.37 C241.19,130.63 244.98,128.72 250.01,126.06 C256.59,122.57 265.28,117.70 273.10,114.47 C280.69,111.33 288.41,108.42 296.20,106.83 C303.78,105.28 311.52,104.97 319.20,104.89 C326.88,104.81 334.03,104.81 342.29,106.38 C352.35,108.29 364.39,112.89 374.95,116.87 C385.27,120.75 395.28,124.26 404.97,129.88 C415.34,135.89 425.66,144.23 434.99,152.34 C444.16,160.32 452.01,169.52 460.53,178.10" fill="none" stroke="#1a1a1a" stroke-width="1.5"/>
<path d="M134.11,212.99 C141.07,206.31 147.98,199.13 154.97,192.93 C161.55,187.10 168.41,180.91 174.81,176.74 C180.04,173.33 184.85,171.07 190.07,168.98 C195.20,166.92 200.27,165.15 205.85,164.25 C211.86,163.28 218.47,163.09 224.98,163.67 C231.91,164.28 239.38,165.46 246.24,168.13 C253.52,170.97 260.52,176.26 267.30,180.63 C273.94,184.90 281.27,190.10 286.53,194.03 C290.36,196.88 292.38,198.49 296.20,201.73 C302.12,206.76 311.41,214.16 318.28,221.67 C325.58,229.65 331.06,238.89 338.53,248.53 C347.44,260.04 358.40,273.52 368.34,286.01" fill="none" stroke="#1a1a1a" stroke-width="1.5"/>
<path d="M413.4,236.6l3.2,5.4h-6.4z" fill="#1a1a1a"/>
<text x="423.4" y="244.7" font-size="18.6">Tabernas</text>
<circle cx="413.8" cy="260.4" r="2.2" fill="#1a1a1a"/>
<text x="423.4" y="265" font-size="18.6">Öland</text>
</svg></body></html>
